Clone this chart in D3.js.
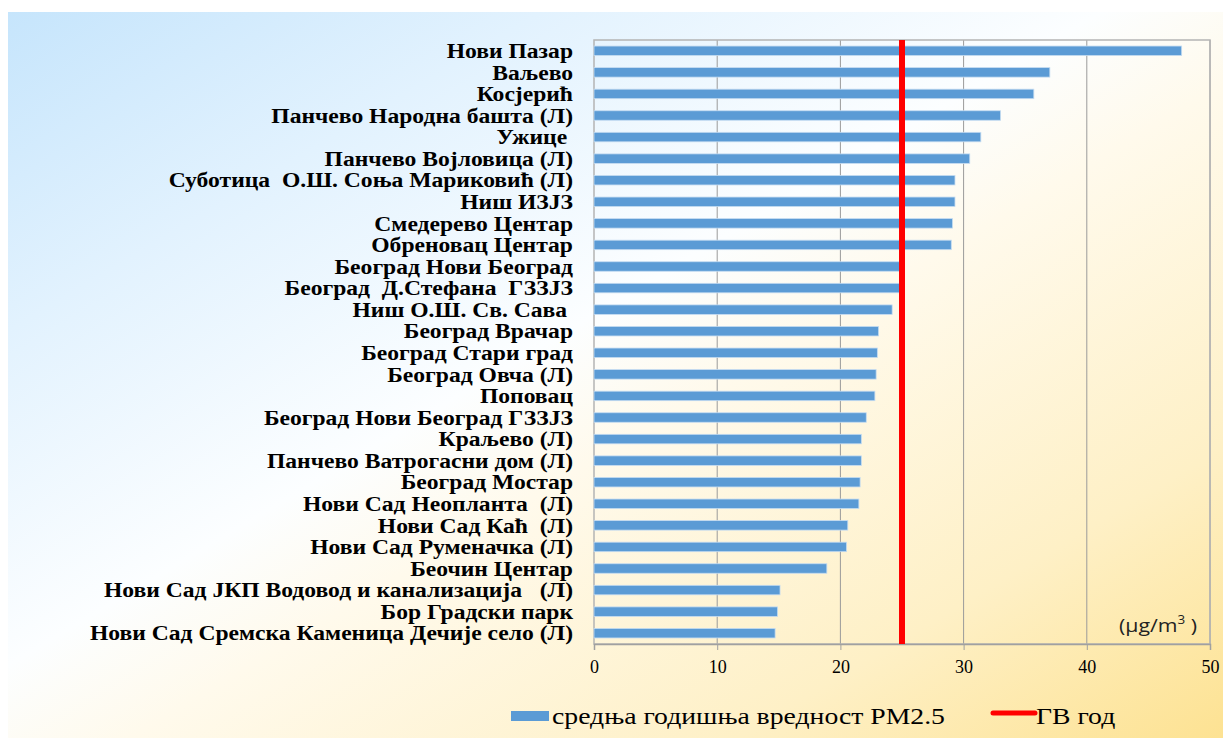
<!DOCTYPE html>
<html>
<head>
<meta charset="utf-8">
<script src="https://cdn.jsdelivr.net/npm/d3@7"></script>
<style>
  html, body { margin: 0; padding: 0; background: #ffffff; }
  svg { display: block; }
  text { white-space: pre; }
</style>
</head>
<body>
<svg id="chart" width="1223" height="738"></svg>
<script>
const stations = [
  "Нови Пазар",
  "Ваљево",
  "Косјерић",
  "Панчево Народна башта (Л)",
  "Ужице ",
  "Панчево Војловица (Л)",
  "Суботица  О.Ш. Соња Мариковић (Л)",
  "Ниш ИЗЈЗ",
  "Смедерево Центар",
  "Обреновац Центар",
  "Београд Нови Београд",
  "Београд  Д.Стефана  ГЗЗЈЗ",
  "Ниш О.Ш. Св. Сава ",
  "Београд Врачар",
  "Београд Стари град",
  "Београд Овча (Л)",
  "Поповац",
  "Београд Нови Београд ГЗЗЈЗ",
  "Краљево (Л)",
  "Панчево Ватрогасни дом (Л)",
  "Београд Мостар",
  "Нови Сад Неопланта  (Л)",
  "Нови Сад Каћ  (Л)",
  "Нови Сад Руменачка (Л)",
  "Беочин Центар",
  "Нови Сад ЈКП Водовод и канализација   (Л)",
  "Бор Градски парк",
  "Нови Сад Сремска Каменица Дечије село (Л)"
];
const pm25 = [47.7, 37.0, 35.7, 33.0, 31.4, 30.5, 29.3, 29.3, 29.1, 29.0,
              24.8, 24.8, 24.2, 23.1, 23.0, 22.9, 22.8, 22.1, 21.7, 21.7,
              21.6, 21.5, 20.6, 20.5, 18.9, 15.1, 14.9, 14.7];
const limitValue = 25;
const xTicks = [0, 10, 20, 30, 40, 50];
const seriesName = "средња годишња вредност PM2.5";
const limitName = "ГВ год";
const unitLabel = "(μg/m";

const svg = d3.select("#chart");
const W = 1223, H = 738;
const SERIF = "'Liberation Serif', 'Times New Roman', Times, serif";

// background gradient
const defs = svg.append("defs");
const grad = defs.append("linearGradient").attr("id", "bg")
  .attr("x1", "0").attr("y1", "0").attr("x2", "1").attr("y2", "1");
[[0, "#c6e5fc"], [0.22, "#e2f2fe"], [0.45, "#fcfeff"], [0.55, "#fffaec"], [0.8, "#fef0c6"], [1, "#fde292"]]
  .forEach(([o, c]) => grad.append("stop").attr("offset", o).attr("stop-color", c));
svg.append("rect").attr("x", 8).attr("y", 12).attr("width", W - 8).attr("height", H - 12)
  .attr("fill", "url(#bg)");

const margin = { left: 594, right: 1210, top: 40, bottom: 644 };
const x = d3.scaleLinear().domain([0, 50]).range([margin.left, margin.right]);
const y = d3.scaleBand().domain(stations).range([margin.top, margin.bottom]).paddingInner(0.56).paddingOuter(0.28);

// gridlines
svg.append("g").selectAll("line").data(xTicks.slice(1)).join("line")
  .attr("x1", d => x(d)).attr("x2", d => x(d))
  .attr("y1", margin.top).attr("y2", margin.bottom)
  .attr("stroke", "#9a9a9a").attr("stroke-width", 1);

// plot border
svg.append("rect").attr("x", margin.left).attr("y", margin.top)
  .attr("width", margin.right - margin.left).attr("height", margin.bottom - margin.top)
  .attr("fill", "none").attr("stroke", "#b4b4b4").attr("stroke-width", 1.5);

// bars
svg.append("g").selectAll("rect").data(pm25).join("rect")
  .attr("x", x(0))
  .attr("y", (d, i) => y(stations[i]))
  .attr("width", d => x(d) - x(0))
  .attr("height", y.bandwidth())
  .attr("fill", "#5b9bd5")
  .attr("stroke", "#c5dcf1").attr("stroke-width", 0.8);

// x axis
const xAxis = d3.axisBottom(x).tickValues(xTicks).tickSize(6).tickPadding(10);
const gx = svg.append("g").attr("transform", `translate(0,${margin.bottom})`).call(xAxis);
gx.attr("font-family", SERIF).attr("font-size", 18);
gx.select(".domain").attr("stroke", "#a0a0a0").attr("stroke-width", 1.5);
gx.selectAll(".tick line").attr("stroke", "#a0a0a0");
gx.selectAll(".tick text").attr("fill", "#000").style("font-family", SERIF).style("font-size", "18px");

// y labels (reference text is horizontally stretched)
svg.append("g").selectAll("text").data(stations).join("text")
  .attr("transform", d => `translate(573,${y(d) + y.bandwidth() / 2}) scale(1.18,1)`)
  .attr("dy", "0.36em")
  .attr("text-anchor", "end")
  .style("font-family", SERIF)
  .attr("font-weight", "bold")
  .attr("font-size", 20)
  .attr("fill", "#000")
  .text(d => d);

// limit line
svg.append("line")
  .attr("x1", x(limitValue)).attr("x2", x(limitValue))
  .attr("y1", margin.top).attr("y2", margin.bottom)
  .attr("stroke", "#ff0000").attr("stroke-width", 6);

// unit label
const ut = svg.append("text").attr("transform", "translate(1119,632) scale(1.12,1)")
  .style("font-family", "'Open Sans', 'Liberation Sans', sans-serif").attr("font-size", 19).attr("fill", "#222");
ut.append("tspan").text(unitLabel);
ut.append("tspan").attr("font-size", 12).attr("dy", -8).text("3");
ut.append("tspan").attr("dy", 8).text(" )");

// legend
const lg = svg.append("g");
lg.append("rect").attr("x", 511).attr("y", 711).attr("width", 38).attr("height", 10).attr("fill", "#5b9bd5");
lg.append("text").attr("transform", "translate(552,724) scale(1.155,1)")
  .style("font-family", SERIF).attr("font-size", 24).attr("fill", "#000")
  .text(seriesName);
lg.append("line").attr("x1", 993).attr("x2", 1035).attr("y1", 713).attr("y2", 713)
  .attr("stroke", "#ff0000").attr("stroke-width", 5).attr("stroke-linecap", "round");
lg.append("text").attr("transform", "translate(1036,724) scale(1.155,1)")
  .style("font-family", SERIF).attr("font-size", 24).attr("fill", "#000")
  .text(limitName);
</script>
</body>
</html>
